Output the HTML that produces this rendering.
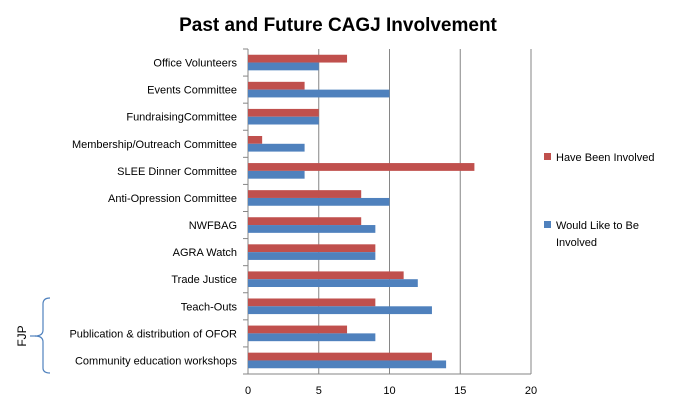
<!DOCTYPE html>
<html><head><meta charset="utf-8"><style>
body{margin:0;background:#fff;}
svg{display:block;font-family:"Liberation Sans",sans-serif;}
</style></head><body>
<svg id="chart" width="675" height="410">
<text x="338" y="31" text-anchor="middle" font-size="19" font-weight="bold" fill="#000">Past and Future CAGJ Involvement</text>
<g id="grid"></g><g id="bars"></g><g id="labels"></g>
<g>
<rect x="544" y="153" width="7" height="7" fill="#c0504d"/>
<text x="556" y="161" font-size="11">Have Been Involved</text>
<rect x="544" y="221" width="7" height="7" fill="#4f81bd"/>
<text x="556" y="229" font-size="11">Would Like to Be</text>
<text x="556" y="246" font-size="11">Involved</text>
</g>
<path d="M50,298 Q43,298 43,304 L43,330 Q43,336 35,336 Q43,336 43,342 L43,368 Q43,373 50,373" fill="none" stroke="#4f81bd" stroke-width="1.2"/>
<line x1="30" y1="336" x2="36" y2="336" stroke="#4f81bd" stroke-width="1.2"/>
<text x="22" y="336" font-size="12" text-anchor="middle" transform="rotate(-90 22 336)" dy="4">FJP</text>
</svg>
<script>
const categories=["Office Volunteers","Events Committee","FundraisingCommittee","Membership/Outreach Committee","SLEE Dinner  Committee","Anti-Opression Committee","NWFBAG","AGRA Watch","Trade Justice","Teach-Outs","Publication & distribution of OFOR","Community education workshops"];
const haveBeen=[7,4,5,1,16,8,8,9,11,9,7,13];
const wouldLike=[5,10,5,4,4,10,9,9,12,13,9,14];
const xTicks=[0,5,10,15,20];
const NS="http://www.w3.org/2000/svg";
const PX0=248,PX1=531,PLOT_TOP=49,PLOT_BOTTOM=374,XMAX=20;
const xs=v=>PX0+(PX1-PX0)*v/XMAX;
const bandH=(PLOT_BOTTOM-PLOT_TOP)/categories.length;
const barH=7.8;
function mk(t,a,p){const e=document.createElementNS(NS,t);for(const k in a)e.setAttribute(k,a[k]);p.appendChild(e);return e;}
const gridG=document.getElementById('grid'),barsG=document.getElementById('bars'),labelsG=document.getElementById('labels');
xTicks.forEach(t=>{
 const l=mk('line',{x1:xs(t),x2:xs(t),y1:PLOT_TOP,y2:PLOT_BOTTOM,stroke:'#868686','stroke-width':1},gridG);
 
 
 const tx=mk('text',{x:xs(t),y:PLOT_BOTTOM+20,'text-anchor':'middle','font-size':11},labelsG);
 tx.textContent=t;
 
 
});
const ax=mk('line',{x1:PX0,x2:PX1,y1:PLOT_BOTTOM,y2:PLOT_BOTTOM,stroke:'#868686'},gridG);


for(let i=0;i<=categories.length;i++){
 const y=PLOT_TOP+i*bandH;
 const tk=mk('line',{x1:PX0-5,x2:PX0,y1:y,y2:y,stroke:'#868686'},gridG);
 
 
}
categories.forEach((c,i)=>{
 const cy=PLOT_TOP+i*bandH+bandH/2;
 const r=mk('rect',{x:PX0,y:cy-barH,width:xs(haveBeen[i])-PX0,height:barH,fill:'#c0504d'},barsG);
 
 
 const b=mk('rect',{x:PX0,y:cy,width:xs(wouldLike[i])-PX0,height:barH,fill:'#4f81bd'},barsG);
 
 
 const t=mk('text',{x:237,y:cy+4,'text-anchor':'end','font-size':11},labelsG);
 t.textContent=c;
 
 
});
</script>
</body></html>
